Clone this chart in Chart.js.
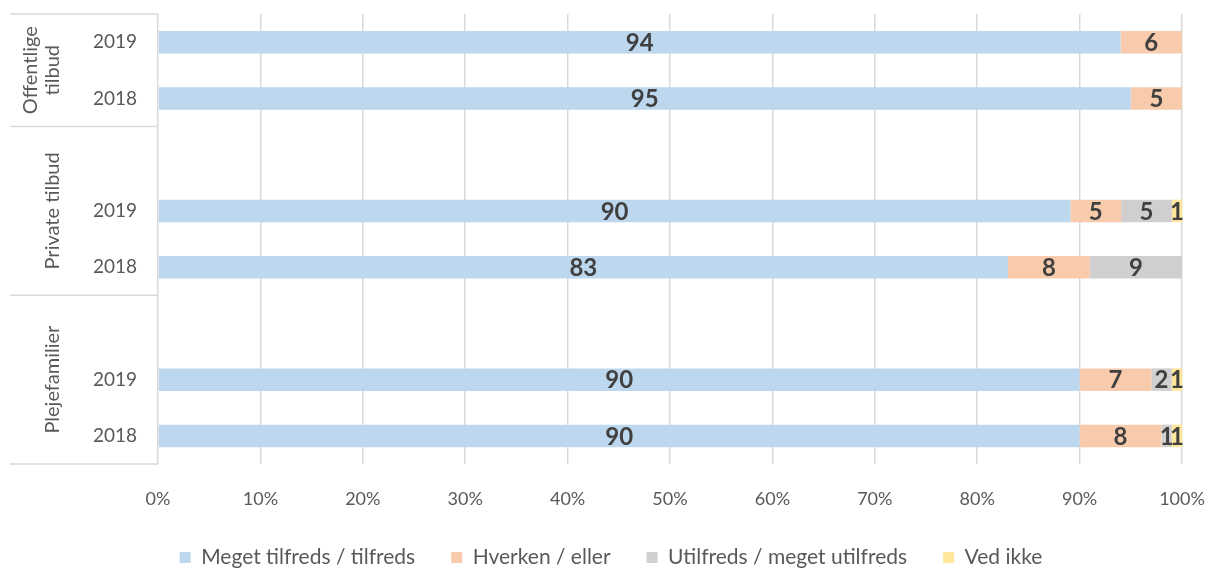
<!DOCTYPE html>
<html>
<head>
<meta charset="utf-8">
<script src="https://cdn.jsdelivr.net/npm/chart.js@4"></script>
<style>
  body { margin: 0; background: #fff; }
  #wrap { width: 1209px; height: 568px; position: relative; }
</style>
</head>
<body>
<div id="wrap"><canvas id="myChart"></canvas></div>
<script>
const years = ["2019", "2018", "", "2019", "2018", "", "2019", "2018"];
const groupNames = [["Offentlige", "tilbud"], ["Private tilbud"], ["Plejefamilier"]];
const groupRows = [[0, 1], [2, 4], [5, 7]];

const seriesNames = ["Meget tilfreds / tilfreds", "Hverken / eller", "Utilfreds / meget utilfreds", "Ved ikke"];
const tilfreds = [94, 95, null, 90, 83, null, 90, 90];
const hverken = [6, 5, null, 5, 8, null, 7, 8];
const utilfreds = [0, 0, null, 5, 9, null, 2, 1];
const vedIkke = [0, 0, null, 1, 0, null, 1, 1];

const xTicks = [0, 10, 20, 30, 40, 50, 60, 70, 80, 90, 100];

const colors = ["#BDD7EE", "#F8CBAD", "#D0CECE", "#FFE699"];
const allSeries = [tilfreds, hverken, utilfreds, vedIkke];

// 100% stacked: each row is scaled to its own total
const rowTotals = years.map((y, i) => allSeries.reduce((s, arr) => s + (arr[i] || 0), 0));

const FONT = "Lato, 'Open Sans', sans-serif";

const labelPlugin = {
    id: "barLabels",
    afterDatasetsDraw(chart) {
        const ctx = chart.ctx;
        ctx.save();
        ctx.font = "bold 24px " + FONT;
        ctx.fillStyle = "#404040";
        ctx.textAlign = "center";
        ctx.textBaseline = "middle";
        chart.data.datasets.forEach((ds, di) => {
            chart.getDatasetMeta(di).data.forEach((el, i) => {
                const v = ds.raw[i];
                if (!v) return;
                const p = el.getCenterPoint();
                ctx.fillText(String(v), p.x, p.y + 1);
            });
        });
        ctx.restore();
    }
};

const groupPlugin = {
    id: "groups",
    afterLayout(chart) {
        // nudge the legend to where it sits in the original
        const lg = chart.legend;
        lg.left += 20; lg.right += 20;
        lg.top += 6; lg.bottom += 6;
    },
    afterDraw(chart) {
        const ctx = chart.ctx;
        const area = chart.chartArea;
        const y = chart.scales.y;
        ctx.save();
        ctx.strokeStyle = "#D9D9D9";
        ctx.lineWidth = 1.5;
        const bounds = [area.top];
        groupRows.forEach((r, gi) => {
            const b = gi === groupRows.length - 1 ? area.bottom
                : (y.getPixelForValue(r[1]) + y.getPixelForValue(r[1] + 1)) / 2;
            bounds.push(b);
        });
        bounds.forEach(b => {
            ctx.beginPath();
            ctx.moveTo(10, b);
            ctx.lineTo(area.left, b);
            ctx.stroke();
        });
        ctx.font = "20px " + FONT;
        ctx.fillStyle = "#595959";
        ctx.textAlign = "center";
        ctx.textBaseline = "middle";
        groupNames.forEach((lines, gi) => {
            const cy = (bounds[gi] + bounds[gi + 1]) / 2;
            const cx = 53 - (lines.length - 1) * 22;
            lines.forEach((t, li) => {
                ctx.save();
                ctx.translate(cx + li * 22, cy);
                ctx.rotate(-Math.PI / 2);
                ctx.fillText(t, 0, 0);
                ctx.restore();
            });
        });
        ctx.restore();
    }
};

new Chart("myChart", {
    type: "bar",
    data: {
        labels: years,
        datasets: allSeries.map((arr, si) => ({
            label: seriesNames[si],
            raw: arr,
            data: arr.map((v, i) => v == null ? null : v / rowTotals[i] * 100),
            backgroundColor: colors[si],
            borderWidth: 0,
            categoryPercentage: 1,
            barPercentage: 0.4
        }))
    },
    options: {
        indexAxis: "y",
        responsive: true,
        maintainAspectRatio: false,
        animation: false,
        layout: { padding: { top: 14, right: 27, left: 0, bottom: 0 } },
        scales: {
            x: {
                stacked: true,
                min: 0,
                max: 100,
                afterBuildTicks(scale) { scale.ticks = xTicks.map(v => ({ value: v })); },
                grid: { color: "#D9D9D9", lineWidth: 1.5, drawTicks: true, tickLength: 24, tickColor: "rgba(0,0,0,0)" },
                border: { display: false },
                ticks: {
                    padding: 0,
                    maxRotation: 0,
                    color: "#595959",
                    font: { family: FONT, size: 18 },
                    callback: v => v + "%"
                },
                afterFit(scale) { scale.height = 41; }
            },
            y: {
                stacked: true,
                grid: { display: false, drawTicks: true, tickLength: 21 },
                border: { display: false },
                ticks: {
                    padding: 0,
                    color: "#595959",
                    font: { family: FONT, size: 19 },
                    autoSkip: false
                },
                afterFit(scale) { scale.width = 158; }
            }
        },
        plugins: {
            legend: {
                position: "bottom",
                maxHeight: 63,
                labels: {
                    boxWidth: 11,
                    boxHeight: 11,
                    padding: 36,
                    color: "#595959",
                    font: { family: FONT, size: 21 }
                }
            },
            tooltip: { enabled: false }
        }
    },
    plugins: [labelPlugin, groupPlugin]
});
</script>
</body>
</html>
